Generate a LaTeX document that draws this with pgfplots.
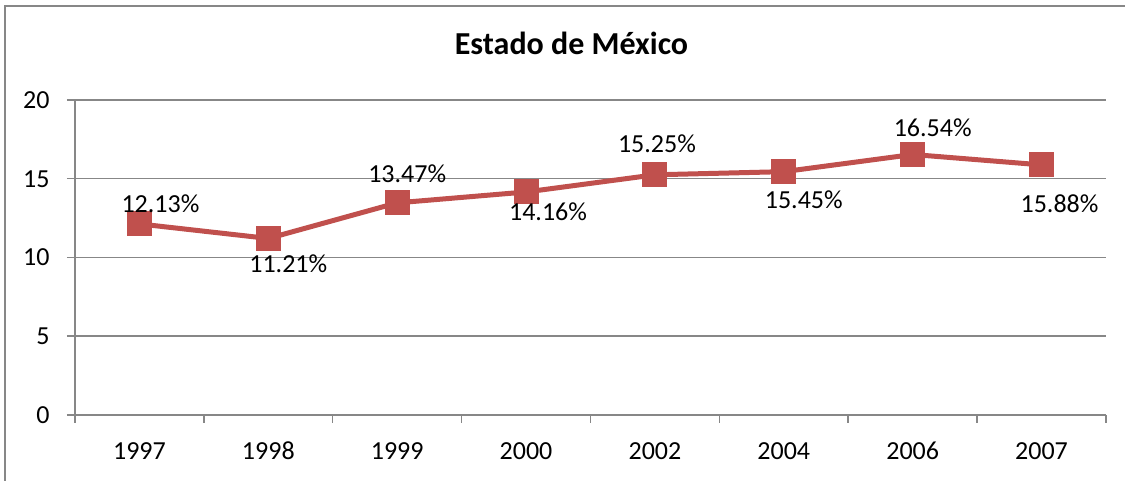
\documentclass[border=0pt]{standalone}
\usepackage{pgfplots}
\pgfplotsset{compat=1.18}
\usepackage{fontspec}
\setmainfont{Carlito}
\definecolor{serie}{HTML}{C0504D}
\definecolor{gridgray}{HTML}{878787}
\begin{document}
\begin{tikzpicture}
\useasboundingbox (0pt,0pt) rectangle (562.5pt,240.5pt);
\draw[gridgray, line width=1pt] (2.5pt,-5pt) -- (2.5pt,237.5pt) -- (570pt,237.5pt);
\node[anchor=base, inner sep=0pt, font=\fontsize{16}{19}\selectfont\bfseries] at (285.75pt,213pt) {Estado de México};
\begin{axis}[
  at={(37.5pt,33pt)}, anchor=south west,
  scale only axis, width=515.5pt, height=157.5pt,
  xmin=-0.5, xmax=7.5, ymin=0, ymax=20,
  axis x line*=bottom, axis y line*=left,
  axis line style={gridgray, line width=0.75pt, -},
  ytick={0,5,10,15,20},
  ymajorgrids=true,
  grid style={gridgray, line width=0.75pt},
  xtick={-0.5,0.5,1.5,2.5,3.5,4.5,5.5,6.5,7.5},
  xticklabels={{},{},{},{},{},{},{},{},{}},
  extra x ticks={0,1,2,3,4,5,6,7},
  extra x tick labels={1997,1998,1999,2000,2002,2004,2006,2007},
  extra x tick style={major tick length=0pt, grid=none},
  tick align=outside,
  major tick length=4pt,
  tick style={gridgray, line width=0.75pt},
  /pgf/number format/assume math mode=true,
  ticklabel style={font=\fontsize{13}{16}\selectfont, inner sep=0pt},
  xticklabel style={anchor=north, text height=9pt, text depth=0pt, yshift=-13pt},
  yticklabel style={anchor=east, xshift=-8.5pt},
  clip=false,
]
\addplot[serie, line width=2.5pt, mark=square*, mark size=5pt,
  mark options={fill=serie, draw=none},
  point meta=explicit,
  visualization depends on={\thisrow{dx} \as \labx},
  visualization depends on={\thisrow{dy} \as \laby},
  nodes near coords={\pgfmathprintnumber[fixed,fixed zerofill,precision=2,assume math mode=true]{\pgfplotspointmeta}\%},
  every node near coord/.append style={anchor=base, inner sep=0pt, text=black,
     font=\fontsize{13}{16}\selectfont, xshift={\labx*0.5pt}, yshift={-\laby*0.5pt}},
] table[x=x, y=y, meta=y] {
x y dx dy
0 12.13 21 -11
1 11.21 20 34
2 13.47 10 -20
3 14.16 22 29
4 15.25 2 -22
5 15.45 20 37
6 16.54 20 -18
7 15.88 18 48
};
\end{axis}
\end{tikzpicture}
\end{document}
